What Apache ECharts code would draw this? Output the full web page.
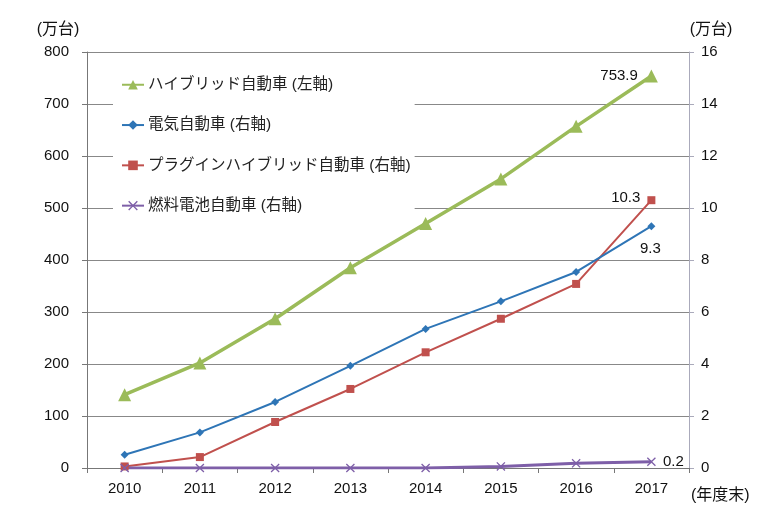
<!DOCTYPE html>
<html><head><meta charset="utf-8">
<script src="https://cdn.jsdelivr.net/npm/echarts@6/dist/echarts.min.js"></script>
<style>html,body{margin:0;padding:0;background:#fff}#c{width:757px;height:516px}</style>
</head><body><div id="c"></div>
<script>
const categories = ['2010','2011','2012','2013','2014','2015','2016','2017'];
const hybrid = [141, 202, 287, 385, 470, 556, 657, 753.9];
const ev = [0.51, 1.37, 2.54, 3.93, 5.35, 6.41, 7.54, 9.3];
const phev = [0.06, 0.42, 1.77, 3.04, 4.45, 5.74, 7.08, 10.3];
const fcv = [0, 0, 0, 0, 0, 0.06, 0.18, 0.24];
const names = ['ハイブリッド自動車 (左軸)','電気自動車 (右軸)','プラグインハイブリッド自動車 (右軸)','燃料電池自動車 (右軸)'];

const font = '"Liberation Sans", "Noto Sans CJK JP", sans-serif';
const xMark = 'path://M0,1L1,0L5,4L9,0L10,1L6,5L10,9L9,10L5,6L1,10L0,9L4,5Z';
const last = categories.length - 1;
function lbl(pos, off) {
  return {show: true, position: pos, offset: off || [0,0], color: '#111', fontSize: 15, fontFamily: font,
    formatter: p => p.dataIndex === last ? String(Number(p.value).toFixed(1)) : ''};
}
const chart = echarts.init(document.getElementById('c'));
chart.setOption({
  animation: false,
  textStyle: {fontFamily: font},
  grid: {left: 87, right: 68, top: 52, bottom: 48},
  legend: {
    orient: 'vertical', left: 113, top: 73, itemGap: 24.8, itemWidth: 22, itemHeight: 12,
    backgroundColor: '#fff', padding: [4, 4, 6, 8],
    textStyle: {fontSize: 15.5, color: '#222', fontFamily: font, padding: [0, 0, 0, -1]},
    data: names
  },
  xAxis: {
    type: 'category', data: categories, boundaryGap: true,
    axisLine: {lineStyle: {color: '#777'}},
    axisTick: {show: true, length: 5, lineStyle: {color: '#777'}},
    axisLabel: {color: '#111', fontSize: 15, margin: 13},
    name: '(年度末)', nameLocation: 'end', nameGap: 0,
    nameTextStyle: {color: '#111', fontSize: 16, align: 'left', verticalAlign: 'top', padding: [20, 0, 0, 2]}
  },
  yAxis: [{
    type: 'value', min: 0, max: 800, interval: 100,
    axisLine: {show: true, lineStyle: {color: '#777'}},
    axisTick: {show: true, length: 5, lineStyle: {color: '#777'}},
    axisLabel: {color: '#111', fontSize: 15, margin: 18},
    splitLine: {lineStyle: {color: '#888'}},
    name: '(万台)', nameLocation: 'end', nameGap: 14,
    nameTextStyle: {color: '#111', fontSize: 16, align: 'center', padding: [0, 58, 0, 0]}
  }, {
    type: 'value', min: 0, max: 16, interval: 2, position: 'right',
    axisLine: {show: true, lineStyle: {color: '#aab'}},
    axisTick: {show: true, length: 5, lineStyle: {color: '#aab'}},
    axisLabel: {color: '#111', fontSize: 15, margin: 12},
    splitLine: {show: false},
    name: '(万台)', nameLocation: 'end', nameGap: 14,
    nameTextStyle: {color: '#111', fontSize: 16, align: 'center', padding: [0, 0, 0, 44]}
  }],
  series: [{
    name: names[0], type: 'line', yAxisIndex: 0, data: hybrid,
    symbol: 'triangle', symbolSize: 13, color: '#9BBB59',
    lineStyle: {width: 3.5, color: '#9BBB59'}, itemStyle: {color: '#9BBB59'},
    label: lbl('left', [-2, 0]), z: 5
  }, {
    name: names[1], type: 'line', yAxisIndex: 1, data: ev,
    symbol: 'diamond', symbolSize: 8, color: '#2E75B6',
    lineStyle: {width: 2, color: '#2E75B6'}, itemStyle: {color: '#2E75B6'},
    label: lbl('bottom', [-1, 6]), z: 4
  }, {
    name: names[2], type: 'line', yAxisIndex: 1, data: phev,
    symbol: 'rect', symbolSize: 8, color: '#C0504D',
    lineStyle: {width: 2, color: '#C0504D'}, itemStyle: {color: '#C0504D'},
    label: lbl('left', [-2, -2]), z: 3
  }, {
    name: names[3], type: 'line', yAxisIndex: 1, data: fcv,
    symbol: xMark, symbolSize: 9, color: '#7E5FA8',
    lineStyle: {width: 3, color: '#7E5FA8'}, itemStyle: {color: '#7E5FA8'},
    label: lbl('right', [2, 0]), z: 3
  }]
});
</script></body></html>
